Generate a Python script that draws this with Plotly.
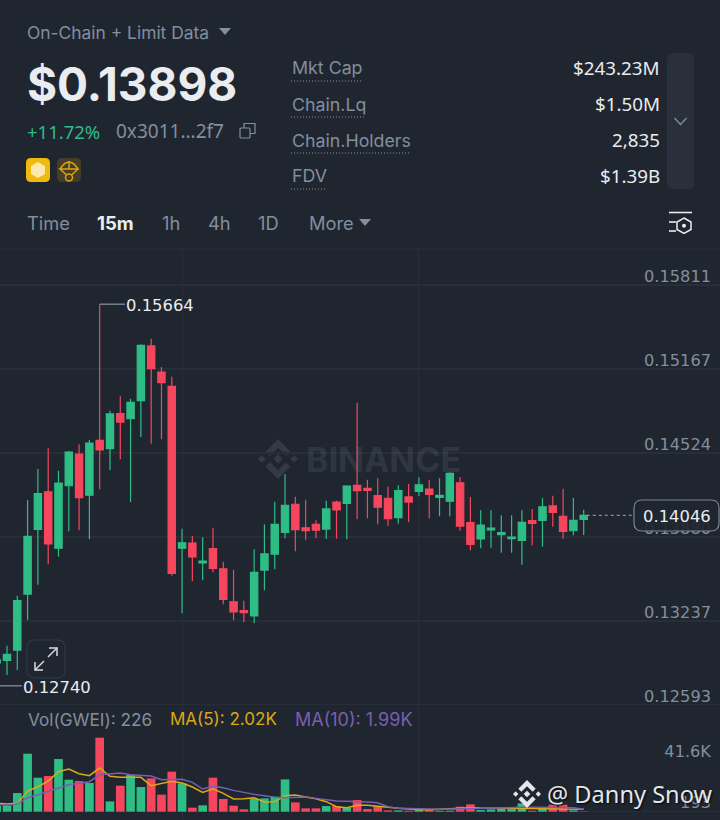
import plotly.graph_objects as go

BG = "#1F2630"
GRID = "#282E39"
GREEN = "#2EBD85"
RED = "#F6465D"
GREY = "#848E9C"
WHITE = "#EAECEF"
YELLOW = "#DDA911"
PURPLE = "#7A5FB0"
FONT = "Inter"
NUM = "DejaVu Sans"
NOTO = "Noto Sans"

# candle data
index = list(range(58))
opens = [0.12915, 0.12935, 0.13014, 0.13443, 0.13939, 0.14227, 0.13794, 0.14273, 0.14516, 0.14200,
         0.14621, 0.14557, 0.14825, 0.14787, 0.14925, 0.15344, 0.15144, 0.15035, 0.13794, 0.13834,
         0.13681, 0.13791, 0.13637, 0.13384, 0.13316, 0.13275, 0.13627, 0.13748, 0.13916, 0.14131,
         0.13951, 0.13977, 0.13941, 0.14148, 0.14138, 0.14276, 0.14253, 0.14197, 0.14177, 0.14028,
         0.14187, 0.14230, 0.14248, 0.14184, 0.14154, 0.14296, 0.13990, 0.13865, 0.13934, 0.13898,
         0.13867, 0.13855, 0.14005, 0.14008, 0.14118, 0.14039, 0.13928, 0.14016]
closes = [0.12938, 0.12981, 0.13392, 0.13886, 0.14212, 0.13827, 0.14294, 0.14531, 0.14181, 0.14600,
          0.14547, 0.14823, 0.14761, 0.14912, 0.15349, 0.15170, 0.15062, 0.13602, 0.13836, 0.13727,
          0.13696, 0.13640, 0.13403, 0.13306, 0.13300, 0.13610, 0.13752, 0.13977, 0.14123, 0.13936,
          0.13928, 0.13932, 0.14095, 0.14087, 0.14271, 0.14235, 0.14238, 0.14108, 0.14020, 0.14235,
          0.14148, 0.14279, 0.14207, 0.14200, 0.14368, 0.13964, 0.13824, 0.13972, 0.13949, 0.13913,
          0.13880, 0.13993, 0.13985, 0.14112, 0.14069, 0.13924, 0.14008, 0.14046]
highs = [0.12976, 0.13047, 0.13430, 0.14164, 0.14401, 0.14560, 0.14388, 0.14539, 0.14590, 0.14623,
         0.15664, 0.14848, 0.14958, 0.14940, 0.15357, 0.15400, 0.15183, 0.15108, 0.13944, 0.13888,
         0.13878, 0.13951, 0.13691, 0.13630, 0.13392, 0.13786, 0.13977, 0.14151, 0.14361, 0.14189,
         0.14166, 0.14008, 0.14158, 0.14158, 0.14276, 0.14909, 0.14319, 0.14330, 0.14266, 0.14276,
         0.14286, 0.14338, 0.14319, 0.14330, 0.14376, 0.14340, 0.14187, 0.14085, 0.14085, 0.14046,
         0.14046, 0.14085, 0.14095, 0.14181, 0.14197, 0.14250, 0.14179, 0.14089]
lows = [0.12740, 0.12823, 0.12861, 0.13244, 0.13515, 0.13671, 0.13729, 0.13924, 0.13932, 0.13863,
        0.14246, 0.14394, 0.14476, 0.14148, 0.14646, 0.14595, 0.14629, 0.13584, 0.13296, 0.13541,
        0.13548, 0.13610, 0.13365, 0.13242, 0.13227, 0.13219, 0.13472, 0.13633, 0.13870, 0.13771,
        0.13857, 0.13870, 0.13865, 0.13867, 0.13863, 0.14016, 0.14023, 0.13977, 0.13967, 0.13982,
        0.13995, 0.14192, 0.14023, 0.14039, 0.14039, 0.13928, 0.13778, 0.13794, 0.13798, 0.13760,
        0.13760, 0.13668, 0.13817, 0.13806, 0.13959, 0.13867, 0.13893, 0.13895]
volumes = [4560, 4830, 15030, 46690, 27370, 28710, 42400, 25760, 24690, 23080,
           59570, 8320, 20930, 29520, 19860, 26830, 13690, 32200, 22810, 3220,
           5100, 27370, 10200, 4830, 1880, 10730, 10730, 12080, 26030, 7510,
           2680, 2680, 4560, 4560, 3220, 9390, 2150, 4560, 1070, 1070,
           800, 1610, 1340, 800, 800, 4030, 5900, 1340, 1880, 2680,
           2680, 6710, 800, 2680, 5640, 5640, 1070, 226]
ma5 = [6710, 6170, 6710, 16640, 20120, 24680, 32200, 34340, 30590, 28980,
       35150, 28440, 27640, 27900, 27640, 20930, 22540, 24420, 23070, 19850,
       15560, 18510, 14760, 10200, 10460, 11270, 7780, 8050, 12880, 13420,
       11810, 10460, 8050, 4020, 3220, 5100, 5100, 4560, 3490, 2680,
       1880, 1610, 1610, 2150, 2410, 2680, 3220, 2950, 2950, 2680,
       2680, 2680, 2410, 2410, 2410, 2150, 2150, 2020]
ma10 = [5900, 5100, 6170, 11270, 13680, 16100, 19050, 21730, 23070, 24150,
        29780, 30590, 31120, 29780, 28980, 28710, 25760, 26030, 26030, 23610,
        18240, 20390, 19320, 17170, 15290, 13950, 12880, 11540, 11270, 11540,
        11810, 10730, 9390, 8590, 8320, 8320, 7780, 7240, 4020, 2680,
        2410, 2150, 2150, 1880, 2150, 2410, 2680, 2680, 3220, 3220,
        3220, 3490, 3490, 3490, 3490, 3220, 3220, 1990]
price_ticks = [0.15811, 0.15167, 0.14524, 0.13880, 0.13237, 0.12593]
price_labels = ["0.15811", "0.15167", "0.14524", "0.13880", "0.13237", "0.12593"]
vol_ticks = [41600, 193]
vol_labels = ["41.6K", "193"]
time_tabs = [("Time", 25.5, GREY), ("1h", 161, GREY), ("4h", 207.5, GREY), ("1D", 256.5, GREY), ("More", 307.5, GREY)]
stats = [("Mkt Cap", 68, 70), ("Chain.Lq", 104, 75), ("Chain.Holders", 140, 120), ("FDV", 176, 36)]
stat_values = ["$243.23M", "$1.50M", "2,835", "$1.39B"]

W, H = 720, 820
last_price = closes[-1]
hi, lo = 0.15664, 0.12740


def X(p):
    return p / W


def Y(p):
    return 1 - p / H


def rrect(x0, y0, x1, y1, r):
    return (f"M {X(x0+r)} {Y(y0)} L {X(x1-r)} {Y(y0)} Q {X(x1)} {Y(y0)} {X(x1)} {Y(y0+r)} "
            f"L {X(x1)} {Y(y1-r)} Q {X(x1)} {Y(y1)} {X(x1-r)} {Y(y1)} "
            f"L {X(x0+r)} {Y(y1)} Q {X(x0)} {Y(y1)} {X(x0)} {Y(y1-r)} "
            f"L {X(x0)} {Y(y0+r)} Q {X(x0)} {Y(y0)} {X(x0+r)} {Y(y0)} Z")


def poly(pts, close=True):
    s = "M " + " L ".join(f"{X(a)} {Y(b)}" for a, b in pts)
    return s + (" Z" if close else "")


shapes = []


def path(d, fill=None, line=None, width=1.0, layer="above", dash=None):
    ln = dict(color=line if line else "rgba(0,0,0,0)", width=width if line else 0)
    if dash:
        ln["dash"] = dash
    shapes.append(dict(type="path", xref="paper", yref="paper", path=d,
                       fillcolor=fill if fill else "rgba(0,0,0,0)", line=ln, layer=layer))


def seg(x0, y0, x1, y1, color, width=1.0, dash=None, layer="above"):
    ln = dict(color=color, width=width)
    if dash:
        ln["dash"] = dash
    shapes.append(dict(type="line", xref="paper", yref="paper", x0=X(x0), y0=Y(y0), x1=X(x1), y1=Y(y1),
                       line=ln, layer=layer))


def binance_logo(cx, cy, s, color, layer):
    # four outer chevrons + centre diamond of the exchange mark
    d = s * 0.24
    path(poly([(cx, cy-d), (cx+d, cy), (cx, cy+d), (cx-d, cy)]), fill=color, layer=layer)
    path(poly([(cx-s, cy), (cx-s+d*0.8, cy-d*0.8), (cx-s+d*1.6, cy), (cx-s+d*0.8, cy+d*0.8)]), fill=color, layer=layer)
    path(poly([(cx+s, cy), (cx+s-d*0.8, cy-d*0.8), (cx+s-d*1.6, cy), (cx+s-d*0.8, cy+d*0.8)]), fill=color, layer=layer)
    path(poly([(cx, cy-s), (cx+s*0.62, cy-s*0.38), (cx+s*0.40, cy-s*0.16), (cx, cy-s*0.56),
               (cx-s*0.40, cy-s*0.16), (cx-s*0.62, cy-s*0.38)]), fill=color, layer=layer)
    path(poly([(cx, cy+s), (cx+s*0.62, cy+s*0.38), (cx+s*0.40, cy+s*0.16), (cx, cy+s*0.56),
               (cx-s*0.40, cy+s*0.16), (cx-s*0.62, cy+s*0.38)]), fill=color, layer=layer)


ann = []


def text(t, x, y, size, color, anchor="left", weight=None, family=FONT, shadow=None):
    f = dict(family=family, size=size, color=color)
    if weight:
        f["weight"] = weight
    if shadow:
        f["shadow"] = shadow
    ann.append(dict(text=t, x=X(x), y=Y(y), xref="paper", yref="paper", xanchor=anchor, yanchor="middle",
                    showarrow=False, font=f, borderpad=0))


# header
text("On-Chain + Limit Data", 25.5, 32.5, 17.4, GREY)
path(poly([(219, 28), (231, 28), (225, 35)]), fill=GREY)
text("$0.13898", 25.5, 84, 46, WHITE, weight=700)
text("+11.72%", 25.5, 131, 18.5, GREEN, family=NOTO)
text("0x3011...2f7", 115, 131, 19, GREY, family=NOTO)
path(rrect(240, 128, 250, 138, 1), line=GREY, width=1.2)
path(poly([(244, 128), (244, 123.5), (255, 123.5), (255, 133.5), (250, 133.5)], close=False), line=GREY, width=1.2)
path(rrect(26, 158, 50, 182, 5), fill="#F0B90B")
path(poly([(38, 162), (45, 166), (45, 174), (38, 178), (31, 174), (31, 166)]), fill="#FBE7B0")
path(rrect(57, 158, 81, 182, 5), fill="#453D27")
path(f"M {X(60)} {Y(169)} Q {X(69)} {Y(155)} {X(78)} {Y(169)} L {X(60)} {Y(169)} L {X(66.5)} {Y(175)} "
     f"M {X(78)} {Y(169)} L {X(71.5)} {Y(175)} M {X(69)} {Y(161)} L {X(69)} {Y(169)}", line="#D8A512", width=1.5)
shapes.append(dict(type="circle", xref="paper", yref="paper", x0=X(65.5), x1=X(72.5), y0=Y(181), y1=Y(174),
                   line=dict(color="#D8A512", width=1.5), fillcolor="rgba(0,0,0,0)", layer="above"))

for (lab, y, w), val in zip(stats, stat_values):
    text(lab, 290.5, y, 17.8, GREY)
    seg(291, y + 13, 291 + w, y + 13, GREY, 1, dash="1px,2px")
    text(val, 660.5, y, 18.8, WHITE, anchor="right", family=NOTO)
path(rrect(667, 53, 694, 189, 6), fill="#2A303B")
path(poly([(674.5, 118), (680.5, 124.5), (686.5, 118)], close=False), line=GREY, width=1.3)

# toolbar
for lab, x, c in time_tabs:
    text(lab, x, 223, 18.3, c)
text("15m", 95.5, 223, 18.5, WHITE, weight=700)
path(poly([(359, 219), (371, 219), (365, 226)]), fill=GREY)
seg(669, 212.5, 692, 212.5, WHITE, 1.6)
seg(669, 222, 676, 222, WHITE, 1.6)
seg(669, 231, 676, 231, WHITE, 1.6)
path(poly([(684, 218), (691, 222), (691, 229.5), (684, 233.5), (677, 229.5), (677, 222)]), line=WHITE, width=1.5)
shapes.append(dict(type="circle", xref="paper", yref="paper", x0=X(682), x1=X(686), y0=Y(227.7), y1=Y(223.7),
                   fillcolor=WHITE, line=dict(width=0), layer="above"))
seg(0, 249, 720, 249, GRID, 1.2)

# watermark in the plot
binance_logo(278, 459, 20, "#343A45", "below")
text("BINANCE", 305, 459.5, 34, "rgba(120,128,140,0.20)", weight=700)

# extremes
text("0.15664", 125, 305.5, 16.4, WHITE, family=NUM)
text("0.12740", 22, 687.5, 16.4, WHITE, family=NUM)

# expand button
path(rrect(27, 640, 65, 678, 8), fill=BG, line="#2E3541", width=1.3)
for a, b, c, d in [(35, 670, 44, 661), (48, 657, 57, 648)]:
    seg(a, b, c, d, "#D8DBE0", 1.5)
path(poly([(35, 662), (35, 670), (43, 670)], close=False), line="#D8DBE0", width=1.5)
path(poly([(49, 648), (57, 648), (57, 656)], close=False), line="#D8DBE0", width=1.5)

# current price tag
path(rrect(634, 500, 719, 531, 8), fill="rgba(31,38,48,0.92)", line="#7E8590", width=1.2)
text("0.14046", 676.5, 516.5, 16.4, WHITE, anchor="center", family=NUM)

# volume legend
text("Vol(GWEI): 226", 26.5, 719, 17.2, GREY)
text("MA(5): 2.02K", 168.5, 719, 17, YELLOW)
text("MA(10): 1.99K", 293.5, 719, 18, PURPLE)

# footer watermark
binance_logo(527, 794, 14, "#E4E6E9", "above")
text("@ Danny Snow", 546, 794, 23.6, "#E4E6E9", family=NOTO, shadow="1px 1px 2px #000")

colors = [GREEN if c >= o else RED for o, c in zip(opens, closes)]

fig = go.Figure()
fig.add_trace(go.Candlestick(
    x=index, open=opens, high=highs, low=lows, close=closes, xaxis="x", yaxis="y",
    whiskerwidth=0,
    increasing=dict(line=dict(color=GREEN, width=1.2), fillcolor=GREEN),
    decreasing=dict(line=dict(color=RED, width=1.2), fillcolor=RED),
    hoverinfo="skip", showlegend=False))
fig.add_trace(go.Bar(x=index, y=volumes, xaxis="x2", yaxis="y2", marker=dict(color=colors, line=dict(width=0)),
                     width=0.84, hoverinfo="skip", showlegend=False))
fig.add_trace(go.Scatter(x=index, y=ma5, xaxis="x2", yaxis="y2", mode="lines", line=dict(color=YELLOW, width=1.5),
                         hoverinfo="skip", showlegend=False))
fig.add_trace(go.Scatter(x=index, y=ma10, xaxis="x2", yaxis="y2", mode="lines", line=dict(color=PURPLE, width=1.5),
                         hoverinfo="skip", showlegend=False))

# leader lines for the extremes and the dashed last-price line use the axes
shapes.append(dict(type="line", xref="x", yref="y", x0=10, x1=12.45, y0=hi, y1=hi,
                   line=dict(color=GREY, width=1.3), layer="above"))
shapes.append(dict(type="line", xref="x", yref="y", x0=0, x1=2.45, y0=lo, y1=lo,
                   line=dict(color=GREY, width=1.3), layer="above"))
shapes.append(dict(type="line", xref="x", yref="y", x0=57.3, x1=61.8, y0=last_price, y1=last_price,
                   line=dict(color=GREY, width=1.1, dash="3px,3px"), layer="above"))

PX_PER_IDX = 10.298
xr = [3.3 / PX_PER_IDX, (720 + 3.3) / PX_PER_IDX]
price_per_px = (0.15811 - 0.12593) / 420
vol_per_px = 805
PRICE_BOTTOM = 717  # axis runs a little past the last gridline so its label is kept

common_x = dict(range=xr, tickvals=[18, 41], ticktext=["", ""], showgrid=True, gridcolor=GRID, gridwidth=1,
                zeroline=False, showline=False, ticks="", showticklabels=False, fixedrange=True)

fig.update_layout(
    width=W, height=H, margin=dict(l=0, r=0, t=0, b=0), autosize=False,
    paper_bgcolor=BG, plot_bgcolor=BG, font=dict(family=FONT),
    boxgap=0.29, boxgroupgap=0, boxmode="overlay", showlegend=False, hovermode=False, dragmode=False,
    xaxis=dict(domain=[0, 1], anchor="y", rangeslider=dict(visible=False), **common_x),
    xaxis2=dict(domain=[0, 1], anchor="y2", **common_x),
    yaxis=dict(domain=[1 - PRICE_BOTTOM / H, 1 - 249 / H],
               range=[0.12593 - (PRICE_BOTTOM - 705) * price_per_px, 0.15811 + 36 * price_per_px], side="right",
               tickvals=price_ticks, ticktext=price_labels, showgrid=True, gridcolor=GRID, gridwidth=1.2,
               zeroline=False, showline=False, ticks="", ticklabelposition="inside", ticklabelstandoff=6,
               ticklabelshift=-9, tickfont=dict(family=NUM, size=16.2, color=GREY), fixedrange=True),
    yaxis2=dict(domain=[0, 1 - 705 / H], range=[-8.3 * vol_per_px, 106.7 * vol_per_px], side="right",
                tickvals=vol_ticks, ticktext=vol_labels, showgrid=False,
                zeroline=True, zerolinecolor=GRID, zerolinewidth=1, showline=False, ticks="",
                ticklabelposition="inside", ticklabelstandoff=6, ticklabelshift=-9,
                tickfont=dict(family=NUM, size=16.2, color=GREY), fixedrange=True),
    shapes=shapes, annotations=ann,
)

fig.write_html("out.html", config={"displayModeBar": False, "staticPlot": True},
               post_script="document.body.style.margin='0';document.body.style.background='#1F2630';")
